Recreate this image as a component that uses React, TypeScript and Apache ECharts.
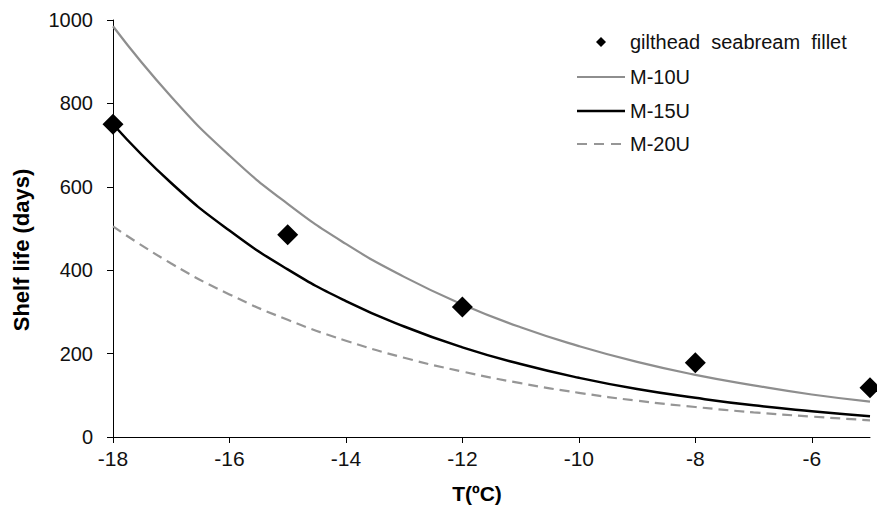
import React, { useEffect, useRef } from "react";
import * as echarts from "echarts";

const curveTemps = [-18, -17, -16, -15, -14, -13, -12, -11, -10, -9, -8, -7, -6, -5];
const m10u = [985, 816, 675, 559, 463, 384, 318, 263, 218, 180, 149, 124, 102, 85];
const m15u = [750, 609, 495, 402, 326, 265, 215, 175, 142, 115, 94, 76, 62, 50];
const m20u = [505, 416, 342, 281, 231, 190, 157, 129, 106, 87, 72, 59, 49, 40];

const pointTemps = [-18, -15, -12, -8, -5];
const fillet = [750, 485, 312, 178, 118];

const seriesNames = ["gilthead  seabream  fillet", "M-10U", "M-15U", "M-20U"];
const xAxisTitle = "T(ºC)";
const yAxisTitle = "Shelf life (days)";

const pair = (xs: number[], ys: number[]) => xs.map((x, i) => [x, ys[i]]);

const GREY = "#8e8e8e";
const DASH_GREY = "#969696";

export default function App() {
  const ref = useRef<HTMLDivElement>(null);
  useEffect(() => {
    if (!ref.current) return;
    const chart = echarts.init(ref.current, undefined, { renderer: "svg" });
    const font = "Liberation Sans, Arial, sans-serif";
    const legendX = 577;
    const legendRows = [42, 77, 111, 144];
    const textStyleBase = { fontFamily: font, fontSize: 20, fill: "#111" };
    chart.setOption({
      animation: false,
      backgroundColor: "#ffffff",
      textStyle: { fontFamily: font },
      grid: { left: 113, right: 7, top: 20, bottom: 72, containLabel: false },
      xAxis: {
        type: "value",
        min: -18,
        max: -5,
        interval: 2,
        axisLine: { show: true, onZero: false, lineStyle: { color: "#000", width: 1 } },
        axisTick: { show: true, length: 6, lineStyle: { color: "#000" } },
        axisLabel: { showMaxLabel: false, margin: 11, fontSize: 21, color: "#111", fontFamily: font },
        splitLine: { show: false },
      },
      yAxis: {
        type: "value",
        min: 0,
        max: 1000,
        interval: 200,
        axisLine: { show: true, lineStyle: { color: "#000", width: 1 } },
        axisTick: { show: true, length: 6, lineStyle: { color: "#000" } },
        axisLabel: {
          margin: 20,
          fontSize: 20,
          color: "#111",
          fontFamily: font,
          formatter: (v: number) => String(v),
        },
        splitLine: { show: false },
      },
      graphic: [
        {
          type: "text",
          x: 21,
          y: 250,
          rotation: Math.PI / 2,
          style: {
            text: yAxisTitle,
            fontFamily: font,
            fontSize: 22,
            fontWeight: "bold",
            fill: "#000",
            textAlign: "center",
            textVerticalAlign: "middle",
          },
        },
        {
          type: "text",
          x: 477,
          y: 493,
          style: {
            text: xAxisTitle,
            fontFamily: font,
            fontSize: 21,
            fontWeight: "bold",
            fill: "#000",
            textAlign: "center",
            textVerticalAlign: "middle",
          },
        },
        {
          type: "polygon",
          shape: {
            points: [
              [legendX + 24, legendRows[0] - 5],
              [legendX + 29, legendRows[0]],
              [legendX + 24, legendRows[0] + 5],
              [legendX + 19, legendRows[0]],
            ],
          },
          style: { fill: "#000" },
        },
        {
          type: "line",
          shape: { x1: legendX, y1: legendRows[1], x2: legendX + 48, y2: legendRows[1] },
          style: { stroke: GREY, lineWidth: 2.2 },
        },
        {
          type: "line",
          shape: { x1: legendX, y1: legendRows[2], x2: legendX + 48, y2: legendRows[2] },
          style: { stroke: "#000", lineWidth: 2.5 },
        },
        {
          type: "line",
          shape: { x1: legendX, y1: legendRows[3], x2: legendX + 48, y2: legendRows[3] },
          style: { stroke: DASH_GREY, lineWidth: 2.2, lineDash: [10, 7] },
        },
        ...seriesNames.map((name, i) => ({
          type: "text",
          x: legendX + 53,
          y: legendRows[i],
          style: { ...textStyleBase, text: name, textVerticalAlign: "middle" },
        })),
      ],
      series: [
        {
          name: seriesNames[0],
          type: "scatter",
          symbol: "diamond",
          symbolSize: 21,
          itemStyle: { color: "#000", opacity: 1 },
          data: pair(pointTemps, fillet),
          clip: false,
          z: 10,
        },
        {
          name: seriesNames[1],
          type: "line",
          smooth: true,
          symbol: "none",
          lineStyle: { color: GREY, width: 2.2 },
          data: pair(curveTemps, m10u),
        },
        {
          name: seriesNames[2],
          type: "line",
          smooth: true,
          symbol: "none",
          lineStyle: { color: "#000", width: 2.5 },
          data: pair(curveTemps, m15u),
        },
        {
          name: seriesNames[3],
          type: "line",
          smooth: true,
          symbol: "none",
          lineStyle: { color: DASH_GREY, width: 2.2, type: [10, 6] },
          data: pair(curveTemps, m20u),
        },
      ],
    });
    return () => chart.dispose();
  }, []);
  return <div ref={ref} style={{ width: 877, height: 509, position: "absolute", left: 0, top: 0 }} />;
}
